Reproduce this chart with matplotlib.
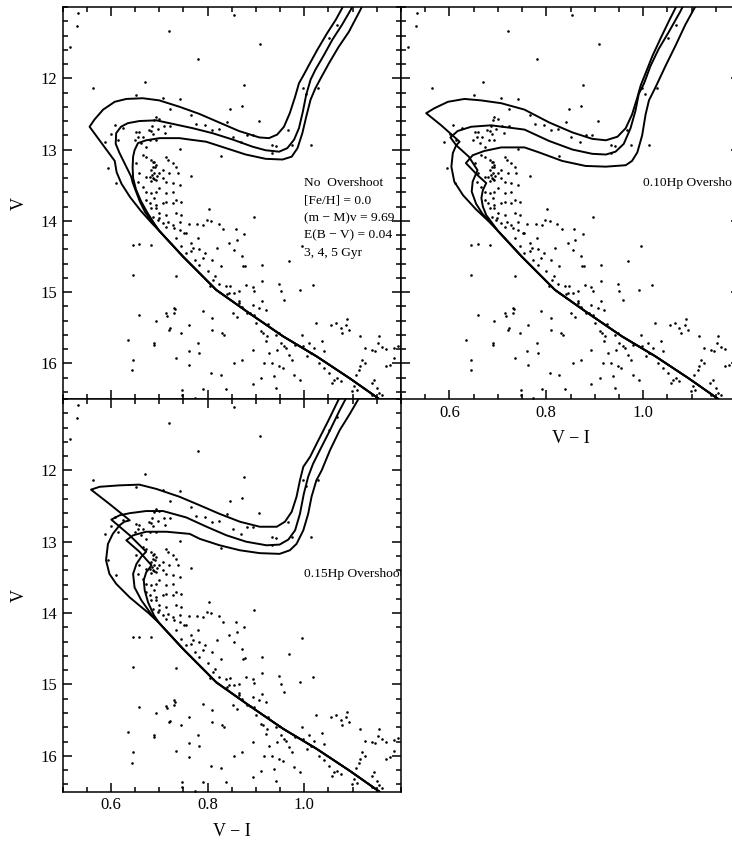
import matplotlib.pyplot as plt
from matplotlib.ticker import FixedLocator, MultipleLocator, FormatStrFormatter

plt.rcParams['font.family'] = ['Liberation Serif', 'DejaVu Serif']

# ---- cluster stars (V-I, V) ----
star_vi = [
    0.533, 0.530, 0.515, 0.720, 0.854, 0.909, 0.781, 0.563, 0.670, 0.876, 0.651, 0.707, 0.742, 0.997, 1.029, 1.051, 1.068, 1.003,
    0.847, 0.871, 0.907, 0.841, 0.722, 0.766, 0.776, 0.795, 0.810, 0.824, 0.852, 0.869, 0.882, 0.894, 0.933, 0.941, 0.966, 0.974,
    1.013, 0.934, 0.827, 0.742,
    0.608, 0.601, 0.588, 0.594, 0.626, 0.614, 0.611, 0.645, 0.659, 0.683, 0.645,
    0.693, 0.700, 0.685, 0.678, 0.688, 0.659, 0.652, 0.667, 0.697, 0.709, 0.722, 0.712, 0.693, 0.681, 0.673, 0.663, 0.656, 0.649,
    0.683, 0.690,
    0.666, 0.673, 0.683, 0.690, 0.687, 0.693, 0.683, 0.690, 0.680, 0.687, 0.693, 0.673, 0.700, 0.714, 0.718, 0.728, 0.735, 0.707,
    0.721, 0.738, 0.707, 0.714, 0.728, 0.742, 0.659, 0.652, 0.656, 0.666, 0.673, 0.683, 0.693, 0.700, 0.714, 0.728, 0.673, 0.680,
    0.690, 0.693, 0.707, 0.714, 0.728, 0.735, 0.745, 0.683, 0.693, 0.700, 0.714, 0.735, 0.745, 0.687, 0.697, 0.707, 0.718, 0.728,
    0.742, 0.714, 0.731, 0.742, 0.699, 0.766, 0.735, 0.755, 0.688, 0.692, 0.686, 0.695, 0.689, 0.684,
    0.802, 0.779, 0.791, 0.798, 0.808, 0.823, 0.832, 0.761, 0.752, 0.766, 0.781, 0.770, 0.783, 0.795, 0.790, 0.810, 0.819, 0.858,
    0.845, 0.860, 0.876, 0.855, 0.872, 0.878, 0.874, 0.913, 0.896, 0.755, 0.746, 0.766,
    0.783, 0.800, 0.816, 0.827, 0.805, 0.824, 0.838, 0.846, 0.855, 0.865, 0.879, 0.893, 0.896, 0.913, 0.920, 0.907, 0.893, 0.865,
    0.872, 0.882, 0.896, 0.852, 0.860, 0.845, 0.948, 0.951, 0.958, 0.968, 0.996, 1.018, 0.992, 0.913,
    0.900, 0.910, 0.915, 0.922, 0.941, 0.951, 0.958, 0.963, 0.920, 0.927, 0.944, 0.948, 0.968, 0.975, 0.995, 0.997, 1.010, 1.013,
    1.020, 1.036, 1.041, 1.025, 1.056, 1.065, 1.075, 1.078, 1.087, 1.089, 1.093, 1.116, 1.126, 1.140, 1.146, 1.154, 1.153, 1.161,
    1.169, 1.185, 1.194, 1.120, 1.126,
    1.116, 1.113, 1.106, 1.102, 1.099, 1.139, 1.140, 1.144, 1.151, 1.155, 1.161, 1.168, 1.178, 1.186, 1.058, 1.061, 1.068, 1.051,
    1.030,
    0.659, 0.693, 0.714, 0.731, 0.731, 0.721, 0.745, 0.762, 0.761, 0.781, 0.790, 0.810, 0.810, 0.830, 0.835, 0.783, 0.735, 0.762,
    0.807, 0.827, 0.855, 0.872, 0.893, 0.910, 0.917, 0.934, 0.937, 0.955, 0.979, 0.992, 0.635, 0.645, 0.644, 0.748, 0.747, 0.791,
    0.839, 0.893, 0.942, 0.773, 0.690, 0.735, 0.716, 0.733, 0.722, 0.690,
    0.773, 0.812, 0.840, 0.866, 0.888, 0.925, 0.948, 0.980, 1.005, 1.040, 1.075, 1.108,
]
star_v = [
    11.09, 11.26, 11.56, 11.33, 11.11, 11.52, 11.73, 12.14, 12.05, 12.09, 12.23, 12.27, 12.29, 12.13, 12.13, 11.44, 11.25, 12.22,
    12.43, 12.39, 12.60, 12.61, 12.43, 12.51, 12.64, 12.66, 12.72, 12.71, 12.82, 12.89, 12.79, 12.79, 12.93, 12.95, 12.72, 12.93,
    12.93, 13.05, 13.09, 12.99,
    12.66, 12.78, 12.89, 13.26, 12.70, 12.86, 13.47, 14.34, 14.33, 14.34, 14.76,
    12.54, 12.57, 12.67, 12.73, 12.78, 12.76, 12.75, 12.82, 12.71, 12.67, 12.67, 12.77, 12.86, 12.86, 12.96, 12.91, 12.82, 12.87,
    12.74, 12.59,
    13.07, 13.10, 13.14, 13.17, 13.24, 13.21, 13.29, 13.33, 13.38, 13.40, 13.43, 13.38, 13.33, 13.10, 13.14, 13.19, 13.24, 13.29,
    13.33, 13.33, 13.40, 13.45, 13.47, 13.50, 13.33, 13.19, 13.45, 13.52, 13.59, 13.61, 13.59, 13.54, 13.61, 13.59, 13.71, 13.75,
    13.68, 13.78, 13.75, 13.73, 13.75, 13.71, 13.73, 13.82, 13.82, 13.89, 13.92, 13.89, 13.92, 13.94, 13.99, 14.03, 14.01, 14.06,
    14.02, 14.08, 14.10, 14.13, 13.96, 13.37, 14.24, 14.17, 13.18, 13.25, 13.36, 13.37, 13.41, 13.44,
    13.84, 14.04, 14.06, 13.99, 14.00, 14.04, 14.12, 14.04, 14.17, 14.31, 14.24, 14.38, 14.40, 14.45, 14.52, 14.55, 14.38, 14.12,
    14.31, 14.27, 14.19, 14.41, 14.50, 14.63, 14.64, 14.62, 13.95, 14.45, 14.36, 14.43,
    14.62, 14.70, 14.78, 14.64, 14.91, 14.89, 14.92, 14.91, 15.01, 14.99, 14.90, 14.93, 14.98, 15.13, 15.25, 15.22, 15.18, 15.15,
    15.21, 15.29, 15.32, 15.29, 15.35, 15.01, 14.88, 14.99, 15.11, 14.57, 14.35, 14.90, 14.97, 14.84,
    15.43, 15.55, 15.57, 15.62, 15.60, 15.71, 15.76, 15.79, 15.69, 15.86, 15.81, 16.04, 15.88, 15.95, 15.60, 15.76, 15.71, 15.86,
    15.79, 15.68, 15.83, 15.43, 15.46, 15.43, 15.50, 15.57, 15.46, 15.38, 15.53, 15.62, 15.79, 15.81, 15.82, 15.62, 15.72, 15.77,
    15.80, 15.78, 15.75, 15.95, 16.00,
    16.04, 16.10, 16.17, 16.32, 16.39, 16.28, 16.44, 16.23, 16.35, 16.41, 16.45, 16.04, 16.02, 15.93, 16.28, 16.23, 16.21, 16.14,
    16.00,
    15.32, 15.40, 15.30, 15.22, 15.29, 15.53, 15.57, 15.46, 15.82, 15.71, 15.27, 15.53, 15.36, 15.57, 15.60, 15.86, 15.93, 16.02,
    16.14, 16.17, 16.00, 15.95, 15.81, 16.21, 16.00, 16.00, 16.18, 16.07, 16.16, 16.23, 15.67, 15.95, 16.10, 16.37, 16.44, 16.36,
    16.36, 16.29, 16.35, 16.49, 15.71, 14.77, 15.33, 15.24, 15.51, 15.74,
    14.55, 14.83, 15.03, 15.12, 15.30, 15.45, 15.58, 15.74, 15.90, 16.06, 16.25, 16.38,
]

# ---- isochrones: shared lower main sequence, then the upper part of each ----
ms_vi = [1.155, 1.094, 1.025, 0.956, 0.887, 0.818, 0.749, 0.700]
ms_v = [16.50, 16.21, 15.90, 15.62, 15.30, 14.97, 14.50, 14.14]

# no overshoot: 3, 4, 5 Gyr
no3_vi = [0.683, 0.662, 0.640, 0.622, 0.612, 0.608, 0.556, 0.566, 0.584, 0.608, 0.632, 0.666, 0.700, 0.742, 0.783, 0.824,
          0.865, 0.907, 0.927, 0.944, 0.958, 0.970, 0.981, 0.989, 0.999, 1.010, 1.027, 1.047, 1.065, 1.078, 1.082]
no3_v = [14.02, 13.86, 13.67, 13.48, 13.32, 13.16, 12.68, 12.58, 12.44, 12.33, 12.29, 12.28, 12.31, 12.40, 12.50, 12.62,
         12.74, 12.83, 12.84, 12.79, 12.68, 12.49, 12.26, 12.07, 11.95, 11.81, 11.60, 11.37, 11.18, 11.02, 10.95]
no4_vi = [0.686, 0.671, 0.660, 0.651, 0.645, 0.642, 0.618, 0.610, 0.611, 0.621, 0.635, 0.659, 0.694, 0.728, 0.769, 0.810,
          0.852, 0.893, 0.920, 0.948, 0.965, 0.979, 0.989, 0.997, 1.004, 1.013, 1.023, 1.041, 1.058, 1.078, 1.096, 1.102]
no4_v = [14.02, 13.88, 13.73, 13.57, 13.46, 13.38, 13.05, 12.92, 12.77, 12.68, 12.63, 12.60, 12.59, 12.64, 12.70, 12.77,
         12.86, 12.96, 13.01, 13.03, 12.98, 12.86, 12.70, 12.47, 12.23, 12.02, 11.88, 11.67, 11.46, 11.25, 11.04, 10.95]
no5_vi = [0.689, 0.675, 0.662, 0.652, 0.646, 0.645, 0.646, 0.649, 0.656, 0.673, 0.701, 0.742, 0.763, 0.797, 0.838, 0.879,
          0.920, 0.955, 0.974, 0.986, 0.996, 1.004, 1.013, 1.023, 1.034, 1.051, 1.071, 1.092, 1.116, 1.122]
no5_v = [14.03, 13.88, 13.72, 13.56, 13.40, 13.25, 13.10, 13.01, 12.91, 12.87, 12.84, 12.84, 12.86, 12.89, 12.98, 13.07,
         13.13, 13.14, 13.10, 12.98, 12.77, 12.54, 12.30, 12.14, 12.00, 11.79, 11.56, 11.35, 11.04, 10.95]

# 0.10 Hp overshoot
h10_3_vi = [0.680, 0.655, 0.628, 0.610, 0.604, 0.607, 0.614, 0.621, 0.583, 0.552, 0.569, 0.597, 0.631, 0.665, 0.707, 0.755,
            0.806, 0.854, 0.895, 0.923, 0.947, 0.964, 0.977, 0.988, 0.995, 1.005, 1.019, 1.036, 1.053, 1.067, 1.072]
h10_3_v = [14.00, 13.84, 13.64, 13.45, 13.24, 13.05, 12.94, 12.89, 12.66, 12.49, 12.42, 12.33, 12.29, 12.31, 12.35, 12.44,
           12.62, 12.76, 12.85, 12.87, 12.82, 12.70, 12.51, 12.27, 12.10, 11.93, 11.69, 11.44, 11.20, 11.01, 10.95]
h10_4_vi = [0.685, 0.668, 0.655, 0.646, 0.648, 0.658, 0.640, 0.614, 0.602, 0.617, 0.645, 0.686, 0.755, 0.806, 0.854, 0.895,
            0.923, 0.943, 0.960, 0.974, 0.984, 0.991, 1.002, 1.015, 1.032, 1.053, 1.077, 1.085]
h10_4_v = [14.02, 13.90, 13.76, 13.59, 13.45, 13.29, 13.10, 12.94, 12.83, 12.74, 12.68, 12.66, 12.72, 12.88, 13.00, 13.06,
           13.07, 13.03, 12.92, 12.70, 12.46, 12.22, 12.07, 11.83, 11.59, 11.35, 11.06, 10.95]
h10_5_vi = [0.688, 0.676, 0.669, 0.666, 0.669, 0.676, 0.658, 0.634, 0.648, 0.672, 0.707, 0.755, 0.785, 0.833, 0.881, 0.923,
            0.964, 0.977, 0.988, 0.998, 1.005, 1.012, 1.026, 1.046, 1.067, 1.087, 1.108, 1.112]
h10_5_v = [14.03, 13.92, 13.80, 13.68, 13.57, 13.47, 13.36, 13.19, 13.08, 13.02, 12.97, 12.97, 13.04, 13.16, 13.23, 13.24,
           13.22, 13.16, 13.04, 12.80, 12.51, 12.31, 12.12, 11.83, 11.54, 11.25, 10.99, 10.95]

# 0.15 Hp overshoot
h15_3_vi = [0.678, 0.639, 0.611, 0.597, 0.590, 0.594, 0.604, 0.618, 0.628, 0.639, 0.597, 0.559, 0.577, 0.618, 0.659, 0.694,
            0.742, 0.784, 0.825, 0.867, 0.908, 0.943, 0.960, 0.974, 0.984, 0.991, 0.998, 1.012, 1.029, 1.050, 1.070, 1.075]
h15_3_v = [14.00, 13.78, 13.59, 13.45, 13.26, 13.03, 12.89, 12.77, 12.72, 12.70, 12.47, 12.27, 12.23, 12.21, 12.20, 12.26,
           12.37, 12.49, 12.61, 12.72, 12.79, 12.79, 12.72, 12.58, 12.37, 12.14, 11.95, 11.81, 11.58, 11.30, 11.02, 10.95]
h15_4_vi = [0.684, 0.663, 0.649, 0.646, 0.653, 0.663, 0.673, 0.639, 0.601, 0.618, 0.639, 0.673, 0.708, 0.756, 0.798, 0.839,
            0.880, 0.922, 0.949, 0.967, 0.981, 0.991, 0.999, 1.008, 1.018, 1.032, 1.053, 1.073, 1.091]
h15_4_v = [14.02, 13.82, 13.64, 13.45, 13.31, 13.21, 13.14, 12.91, 12.69, 12.63, 12.60, 12.57, 12.57, 12.66, 12.79, 12.91,
           13.00, 13.05, 13.04, 12.97, 12.84, 12.61, 12.33, 12.09, 11.91, 11.72, 11.44, 11.16, 10.93]
h15_5_vi = [0.689, 0.677, 0.670, 0.668, 0.673, 0.684, 0.659, 0.632, 0.646, 0.673, 0.715, 0.763, 0.784, 0.825, 0.867, 0.908,
            0.949, 0.970, 0.984, 0.998, 1.008, 1.015, 1.025, 1.036, 1.053, 1.073, 1.094, 1.118]
h15_5_v = [14.03, 13.85, 13.68, 13.54, 13.43, 13.33, 13.14, 12.98, 12.91, 12.86, 12.86, 12.89, 12.96, 13.05, 13.12, 13.16,
           13.17, 13.12, 13.03, 12.84, 12.61, 12.37, 12.14, 12.00, 11.72, 11.44, 11.21, 10.93]

info_lines = ['No  Overshoot', '[Fe/H] = 0.0', '(m \u2212 M)v = 9.69', 'E(B \u2212 V) = 0.04', '3, 4, 5 Gyr']


def draw_panel(ax, isos, xlabels, ylabels):
    for vi, v in isos:
        ax.plot(ms_vi + vi, ms_v + v, color='k', lw=1.4, solid_joinstyle='round')
    ax.scatter(star_vi, star_v, s=3.5, c='k', linewidths=0)
    ax.set_xlim(0.5, 1.2)
    ax.set_ylim(16.5, 11.0)
    ax.xaxis.set_major_locator(FixedLocator([0.6, 0.8, 1.0]))
    ax.xaxis.set_minor_locator(MultipleLocator(0.05))
    ax.yaxis.set_major_locator(FixedLocator([12, 13, 14, 15, 16]))
    ax.yaxis.set_minor_locator(MultipleLocator(0.2))
    ax.xaxis.set_major_formatter(FormatStrFormatter('%.1f'))
    ax.yaxis.set_major_formatter(FormatStrFormatter('%d'))
    ax.tick_params(which='both', direction='in', top=True, right=True, width=1.1,
                   labelsize=12, labelbottom=xlabels, labelleft=ylabels)
    ax.tick_params(which='major', length=6.5, pad=4)
    ax.tick_params(which='minor', length=3.6)
    for s in ax.spines.values():
        s.set_linewidth(1.1)
    if xlabels:
        ax.set_xlabel('V \u2212 I', fontsize=13, labelpad=7)
    if ylabels:
        ax.set_ylabel('V', fontsize=13, labelpad=9)


fig = plt.figure(figsize=(7.32, 8.41), dpi=100)
W, H = 732.0, 841.0
ax1 = fig.add_axes([62.5 / W, 1 - 399 / H, 338.5 / W, 392 / H])
ax2 = fig.add_axes([401 / W, 1 - 399 / H, 339 / W, 392 / H])
ax3 = fig.add_axes([62.5 / W, 1 - 791.5 / H, 338.5 / W, 392.5 / H])

draw_panel(ax1, [(no3_vi, no3_v), (no4_vi, no4_v), (no5_vi, no5_v)], False, True)
draw_panel(ax2, [(h10_3_vi, h10_3_v), (h10_4_vi, h10_4_v), (h10_5_vi, h10_5_v)], True, False)
draw_panel(ax3, [(h15_3_vi, h15_3_v), (h15_4_vi, h15_4_v), (h15_5_vi, h15_5_v)], True, True)

for i, line in enumerate(info_lines):
    ax1.text(1.0, 13.47 + 0.245 * i, line, fontsize=9.7, va='center', ha='left')
ax2.text(1.0, 13.47, '0.10Hp Overshoot', fontsize=9.7, va='center', ha='left', clip_on=True)
ax3.text(1.0, 13.45, '0.15Hp Overshoot', fontsize=9.7, va='center', ha='left', clip_on=True)

fig.savefig('out.png', dpi=100)
